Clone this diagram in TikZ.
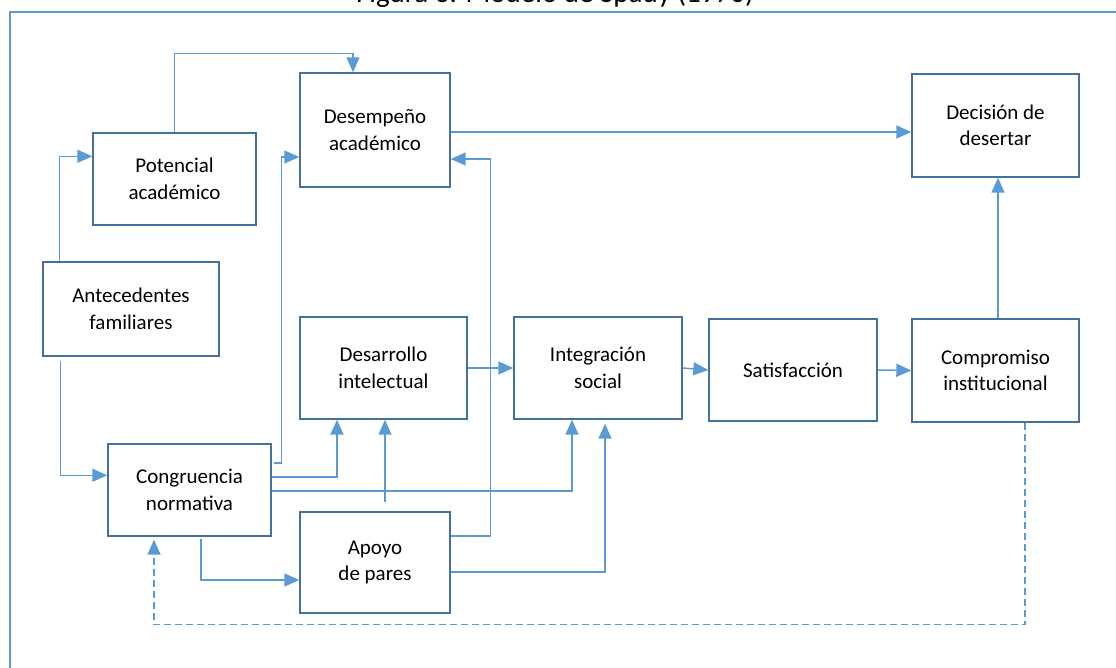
\documentclass[tikz,border=0pt]{standalone}
\usepackage{fontspec}
\setmainfont{Carlito}
\usetikzlibrary{arrows.meta}
\definecolor{lineblue}{RGB}{91,155,213}
\definecolor{boxblue}{RGB}{65,113,156}
\begin{document}
\begin{tikzpicture}[x=1pt,y=-1pt,
  box/.style={draw=boxblue, line width=1.4pt, fill=white, text=black,
    font=\fontsize{21}{26.5}\selectfont, align=center, inner sep=0pt,
    rectangle},
  conn/.style={draw=lineblue, line width=1.5pt,
    -{Triangle[length=15pt,width=13pt]}},
  frame/.style={draw=lineblue, line width=1.5pt}]
\useasboundingbox (0,0) rectangle (1116,668);
\clip (0,0) rectangle (1116,668);

% caption, partly cut by the top edge
\node[anchor=base, font=\fontsize{29}{34}\selectfont, text=black] (title) at (555,3) {Figura 3. Modelo de Spady (1970)};

% outer frame
\draw[frame] (10,12) rectangle (1140,700);

% boxes
\node[box, minimum width=163pt, minimum height=92pt]  (pot) at (174.5,179)   {Potencial\\académico};
\node[box, minimum width=150pt, minimum height=114pt] (des) at (375,130)     {Desempeño\\académico};
\node[box, minimum width=167pt, minimum height=103pt] (dec) at (995.5,125.5) {Decisión de\\desertar};
\node[box, minimum width=176pt, minimum height=94pt]  (ant) at (131,309)     {Antecedentes\\familiares};
\node[box, minimum width=167pt, minimum height=102pt] (dev) at (383.5,368)   {Desarrollo\\intelectual};
\node[box, minimum width=168pt, minimum height=102pt] (int) at (598,368)     {Integración\\social};
\node[box, minimum width=168pt, minimum height=102pt] (sat) at (793,370)     {Satisfacción};
\node[box, minimum width=167pt, minimum height=103pt] (com) at (995.5,370.5) {Compromiso\\institucional};
\node[box, minimum width=163pt, minimum height=92pt]  (con) at (189.5,490)   {Congruencia\\normativa};
\node[box, minimum width=150pt, minimum height=101pt] (apo) at (375,562.5)   {Apoyo\\de pares};

% connectors
\draw[conn] ([xshift=17pt]ant.north west) |- ([yshift=-24pt]pot.north west);
\draw[conn] ([xshift=18pt,yshift=-4pt]ant.south west) |- ([yshift=-32pt]con.north west);
\draw[conn] (pot.north) |- ([xshift=-22pt,yshift=19pt]des.north) -- ([xshift=-22pt]des.north);
\draw[conn] ([yshift=-2pt]des.east) -- ([yshift=-6.5pt]dec.west);
\draw[conn] ([xshift=2pt,yshift=27pt]con.east) -| ([xshift=-18pt,yshift=-27pt]des.west) -- ([yshift=-27pt]des.west);
\draw[conn] ([yshift=26.5pt]apo.east) -| ([xshift=40pt,yshift=-29pt]des.east) -- ([yshift=-29pt]des.east);
\draw[conn, line width=2.3pt] ([yshift=13pt]con.east) -| ([xshift=-46.5pt]dev.south);
\draw[conn] ([xshift=10pt,yshift=9pt]apo.north) -- ([xshift=1.5pt]dev.south);
\draw[conn] ([yshift=-1pt]con.east) -| ([xshift=-26pt]int.south);
\draw[conn] ([yshift=-9.5pt]apo.east) -| ([xshift=7pt,yshift=-4pt]int.south);
\draw[conn] ([xshift=11.5pt,yshift=-2pt]con.south) |- ([yshift=-17.5pt]apo.west);
\draw[conn] (dev.east) -- (int.west);
\draw[conn] (int.east) -- (sat.west);
\draw[conn] (sat.east) -- (com.west);
\draw[conn] ([xshift=2.5pt]com.north) -- ([xshift=2.5pt]dec.south);
\draw[conn, dash pattern=on 7pt off 4pt] ([xshift=29.5pt]com.south) |- ([xshift=-35.5pt,yshift=-88pt]con.south) -- ([xshift=-35.5pt,yshift=-3pt]con.south);
\end{tikzpicture}
\end{document}
